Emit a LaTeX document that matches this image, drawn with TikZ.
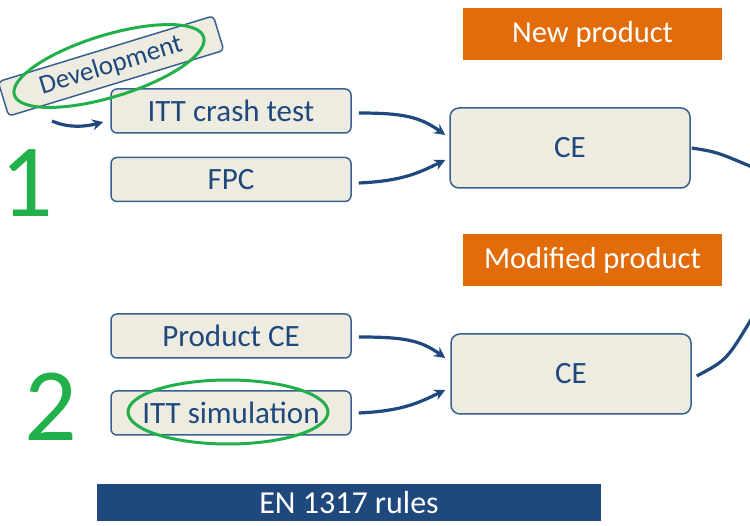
\documentclass[tikz,border=0pt]{standalone}
\usepackage{fontspec}
\setmainfont{Carlito}
\usetikzlibrary{arrows.meta}
\definecolor{boxfill}{HTML}{EEECE1}
\definecolor{boxline}{HTML}{3A6090}
\definecolor{txtblue}{HTML}{1F497D}
\definecolor{ringgreen}{HTML}{22B04B}
\definecolor{orangebox}{HTML}{E36C0A}
\definecolor{navy}{HTML}{1F497D}
\tikzset{
  stepbox/.style={draw=boxline, fill=boxfill, line width=1.5pt, rounded corners=6pt,
    minimum width=240pt, minimum height=44pt, inner sep=0pt, text=txtblue, font=\fontsize{31}{33}\selectfont},
  cebox/.style={stepbox, minimum height=80pt, minimum width=240pt, rounded corners=9pt},
  tagbox/.style={fill=orangebox, minimum width=259pt, minimum height=52pt, inner sep=0pt, text=white, font=\fontsize{30.5}{32}\selectfont},
  arr/.style={draw=txtblue, line width=3.2pt, -{Stealth[length=11pt,width=11pt]}},
  conn/.style={draw=txtblue, line width=3.2pt},
  ring/.style={draw=ringgreen, line width=3pt},
  bignum/.style={text=ringgreen, font=\fontsize{104}{104}\selectfont, inner sep=0pt}
}
\begin{document}
\begin{tikzpicture}[x=1pt,y=-1pt]
\useasboundingbox (0,0) rectangle (750,526);
% tags
\node[tagbox] (newp) at (592.5,34) {New product};
\node[tagbox] (modp) at (592.5,260.5) {Modified product};
% top row
\node[stepbox] (crash) at (231,111) {ITT crash test};
\node[stepbox] (fpc) at (231,179.5) {FPC};
\node[cebox] (ce1) at (570,148) {CE};
% bottom row
\node[stepbox] (prodce) at (231,336) {Product CE};
\node[stepbox] (sim) at (231,413) {ITT simulation};
\node[cebox] (ce2) at (571,374) {CE};
% development
\node[draw=boxline, fill=boxfill, line width=1.5pt, rounded corners=4pt, rotate=17,
  minimum width=225pt, minimum height=36pt, inner sep=0pt, text=txtblue,
  font=\fontsize{27}{29}\selectfont] (dev) at (111,66) {Development};
\draw[ring, rotate around={17:(109,66)}] (109,66) ellipse [x radius=99, y radius=31];
% numbers
\node[bignum] (one) at (27,183) {1};
\node[bignum] (two) at (51,407) {2};
% ring around simulation
\draw[ring] (228,412) ellipse [x radius=100, y radius=32];
% connectors
\coordinate (devarr) at (52,121);
\draw[arr] (devarr) .. controls +(18,8) and +(-15,4) .. ([xshift=-7pt,yshift=-11pt]crash.west);
\draw[arr] ([xshift=7pt,yshift=-2pt]crash.east) .. controls +(45,0) and +(-25,-18) .. ([xshift=-4pt,yshift=13pt]ce1.west);
\draw[arr] ([xshift=7pt,yshift=-3.5pt]fpc.east) .. controls +(45,-2) and +(-25,12) .. ([xshift=-4pt,yshift=-12pt]ce1.west);
\draw[arr] ([xshift=7pt,yshift=-1pt]prodce.east) .. controls +(45,0) and +(-25,-18) .. ([xshift=-5pt,yshift=16pt]ce2.west);
\draw[arr] ([xshift=7pt]sim.east) .. controls +(45,-2) and +(-25,12) .. ([xshift=-5pt,yshift=-16pt]ce2.west);
\coordinate (off1) at (752,167);
\coordinate (off2) at (752,318);
\draw[conn] ([xshift=1pt]ce1.east) .. controls +(25,4) .. (off1);
\draw[conn] ([xshift=5pt,yshift=-2pt]ce2.east) .. controls +(30,-16) .. (off2);
% bottom bar
\node[fill=navy, minimum width=504pt, minimum height=37pt, inner sep=0pt, text=white,
  font=\fontsize{32}{34}\selectfont] (rules) at (349,502.5) {EN 1317 rules};
\end{tikzpicture}
\end{document}
